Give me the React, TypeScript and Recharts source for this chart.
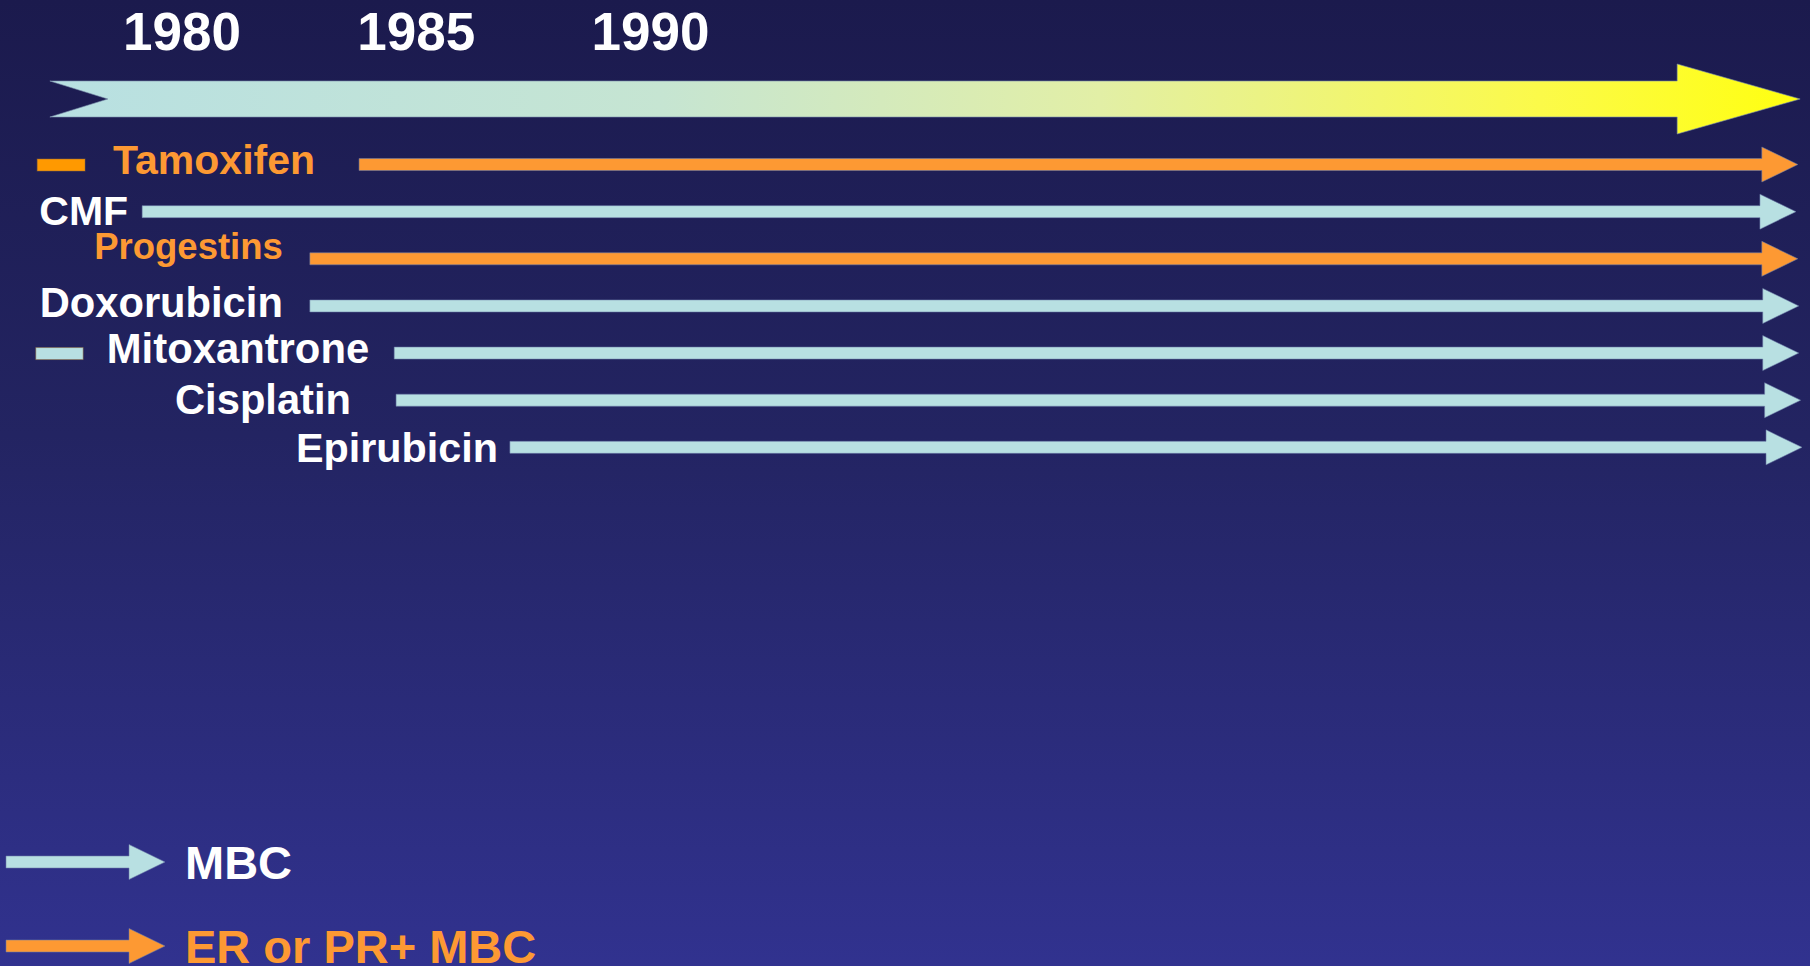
import React from 'react';
import { BarChart, Bar, XAxis, YAxis, Legend } from 'recharts';

// ---------- data ----------
const yearTicks = [1980, 1985, 1990];
const timelineStart = 1977.18;
const timelineEnd = 2014.54;

const drugNames = ['Tamoxifen', 'CMF', 'Progestins', 'Doxorubicin', 'Mitoxantrone', 'Cisplatin', 'Epirubicin'];
const indication = ['ER or PR+ MBC', 'MBC', 'ER or PR+ MBC', 'MBC', 'MBC', 'MBC', 'MBC'];
const startYear = [1983.78, 1979.15, 1982.73, 1982.73, 1984.53, 1984.57, 1987.0];
const endYear = [2014.49, 2014.45, 2014.49, 2014.51, 2014.51, 2014.55, 2014.58];
const earlyStart: (number | null)[] = [1976.91, null, null, null, 1976.88, null, null];
const earlyEnd: (number | null)[] = [1977.93, null, null, null, 1977.89, null, null];
const legendLabels = ['MBC', 'ER or PR+ MBC'];

// ---------- styles ----------
const W = 1810;
const H = 966;
const FONT = '"Liberation Sans", Arial, Helvetica, sans-serif';
const LIGHT = '#b8e0e2';
const ORANGE = '#fd9933';
const lineColor: Record<string, string> = { 'MBC': LIGHT, 'ER or PR+ MBC': ORANGE };
const textColor: Record<string, string> = { 'MBC': '#ffffff', 'ER or PR+ MBC': ORANGE };
const dashColor: Record<string, string> = { 'MBC': LIGHT, 'ER or PR+ MBC': '#ff9900' };
const labelStyle: Record<string, { size: number; gap: number; dy: number }> = {
  Tamoxifen: { size: 41, gap: 44, dy: -5 },
  CMF: { size: 41, gap: 14, dy: -1 },
  Progestins: { size: 36.5, gap: 27, dy: -13 },
  Doxorubicin: { size: 41.7, gap: 27, dy: -4 },
  Mitoxantrone: { size: 41.8, gap: 25, dy: -5 },
  Cisplatin: { size: 41.7, gap: 45, dy: -1 },
  Epirubicin: { size: 41.3, gap: 12, dy: 0 },
};
const X_DOMAIN: [number, number] = [1976.5, 2014.75];
const MARGIN_LEFT = 18;

// ---------- tables ----------
const timelineData = [{ name: 'timeline', span: [timelineStart, timelineEnd] }];
const drugData = drugNames.map((name, i) => ({
  name,
  type: indication[i],
  span: [startYear[i], endYear[i]],
  early: earlyStart[i] != null ? [earlyStart[i], earlyEnd[i]] : null,
}));

// ---------- shapes ----------
const TimelineArrow = (props: any) => {
  const { x, y, width, height } = props;
  const cy = y + height / 2;
  const bodyH = 36;
  const headH = 70;
  const headL = 123;
  const notch = 58;
  const tip = x + width;
  const base = tip - headL;
  const d = `M${x},${cy - bodyH / 2} L${base},${cy - bodyH / 2} L${base},${cy - headH / 2} L${tip},${cy} L${base},${cy + headH / 2} L${base},${cy + bodyH / 2} L${x},${cy + bodyH / 2} L${x + notch},${cy} Z`;
  return (
    <g>
      <defs>
        <linearGradient id="tlGrad" x1="0" y1="0" x2="1" y2="0">
          <stop offset="0" stopColor="#b8e0e2" />
          <stop offset="0.35" stopColor="#c6e5d2" />
          <stop offset="0.6" stopColor="#e2efa6" />
          <stop offset="0.85" stopColor="#fbfa4a" />
          <stop offset="1" stopColor="#ffff10" />
        </linearGradient>
      </defs>
      <path d={d} fill="url(#tlGrad)" stroke="rgba(120,140,170,0.6)" strokeWidth={1} />
    </g>
  );
};

const DrugArrow = (props: any) => {
  const { x, y, width, height, payload } = props;
  const cy = y + height / 2;
  const bodyH = 12;
  const headH = 35;
  const headL = 36;
  const tip = x + width;
  const base = tip - headL;
  const color = lineColor[payload.type];
  const ls = labelStyle[payload.name];
  const d = `M${x},${cy - bodyH / 2} L${base},${cy - bodyH / 2} L${base},${cy - headH / 2} L${tip},${cy} L${base},${cy + headH / 2} L${base},${cy + bodyH / 2} L${x},${cy + bodyH / 2} Z`;
  return (
    <g>
      <path d={d} fill={color} stroke="rgba(110,125,170,0.55)" strokeWidth={1} />
      <text
        x={x - ls.gap}
        y={cy + ls.dy + 0.358 * ls.size}
        textAnchor="end"
        fontFamily={FONT}
        fontWeight="bold"
        fontSize={ls.size}
        fill={textColor[payload.type]}
      >
        {payload.name}
      </text>
    </g>
  );
};

const EarlyDash = (props: any) => {
  const { x, y, width, height, payload } = props;
  if (!payload || payload.early == null || !isFinite(x) || !isFinite(width)) return <g />;
  const cy = y + height / 2;
  return <rect x={x} y={cy - 6} width={width} height={12} fill={dashColor[payload.type]} stroke="rgba(150,110,60,0.5)" strokeWidth={1} />;
};

const YearTick = (props: any) => {
  const { x, payload } = props;
  return (
    <text x={x} y={50} textAnchor="middle" fontFamily={FONT} fontWeight="bold" fontSize={53} fill="#ffffff">
      {payload.value}
    </text>
  );
};

const LegendContent = () => {
  const rows = [27, 111];
  return (
    <svg width={600} height={131} style={{ display: 'block', overflow: 'visible' }}>
      {legendLabels.map((label, i) => {
        const cy = rows[i];
        const x0 = 6;
        const base = 129;
        const tip = 165;
        const d = `M${x0},${cy - 6} L${base},${cy - 6} L${base},${cy - 17.5} L${tip},${cy} L${base},${cy + 17.5} L${base},${cy + 6} L${x0},${cy + 6} Z`;
        return (
          <g key={label}>
            <path d={d} fill={lineColor[label]} stroke="rgba(110,125,170,0.55)" strokeWidth={1} />
            <text x={185} y={cy + 16.8} fontFamily={FONT} fontWeight="bold" fontSize={47} fill={textColor[label]}>
              {label}
            </text>
          </g>
        );
      })}
    </svg>
  );
};

export default function App() {
  return (
    <div
      style={{
        position: 'fixed',
        left: 0,
        top: 0,
        width: W,
        height: H,
        overflow: 'hidden',
        background: 'linear-gradient(to bottom, #1b1a4d 0%, #232462 45%, #31328f 100%)',
      }}
    >
      <div style={{ position: 'absolute', left: 0, top: 0 }}>
        <BarChart
          width={W}
          height={140}
          data={timelineData}
          layout="vertical"
          margin={{ top: 0, right: 0, bottom: 6, left: MARGIN_LEFT }}
        >
          <XAxis
            type="number"
            orientation="top"
            domain={X_DOMAIN}
            ticks={yearTicks}
            height={64}
            axisLine={false}
            tickLine={false}
            tick={<YearTick />}
            interval={0}
          />
          <YAxis type="category" dataKey="name" hide />
          <Bar dataKey="span" barSize={36} shape={<TimelineArrow />} isAnimationActive={false} />
        </BarChart>
      </div>
      <div style={{ position: 'absolute', left: 0, top: 0 }}>
        <BarChart
          width={W}
          height={H}
          data={drugData}
          layout="vertical"
          margin={{ top: 141, right: 0, bottom: 495, left: MARGIN_LEFT }}
        >
          <XAxis type="number" domain={X_DOMAIN} hide />
          <YAxis type="category" dataKey="name" hide />
          <XAxis xAxisId="early" type="number" domain={X_DOMAIN} hide />
          <YAxis yAxisId="early" type="category" dataKey="name" hide />
          <Bar dataKey="span" barSize={35} shape={<DrugArrow />} isAnimationActive={false} />
          <Bar
            dataKey="early"
            xAxisId="early"
            yAxisId="early"
            barSize={12}
            shape={<EarlyDash />}
            isAnimationActive={false}
          />
          <Legend
            layout="horizontal"
            align="center"
            verticalAlign="middle"
            content={<LegendContent />}
            wrapperStyle={{ left: 0, top: 835, width: 600, height: 131 }}
          />
        </BarChart>
      </div>
    </div>
  );
}
